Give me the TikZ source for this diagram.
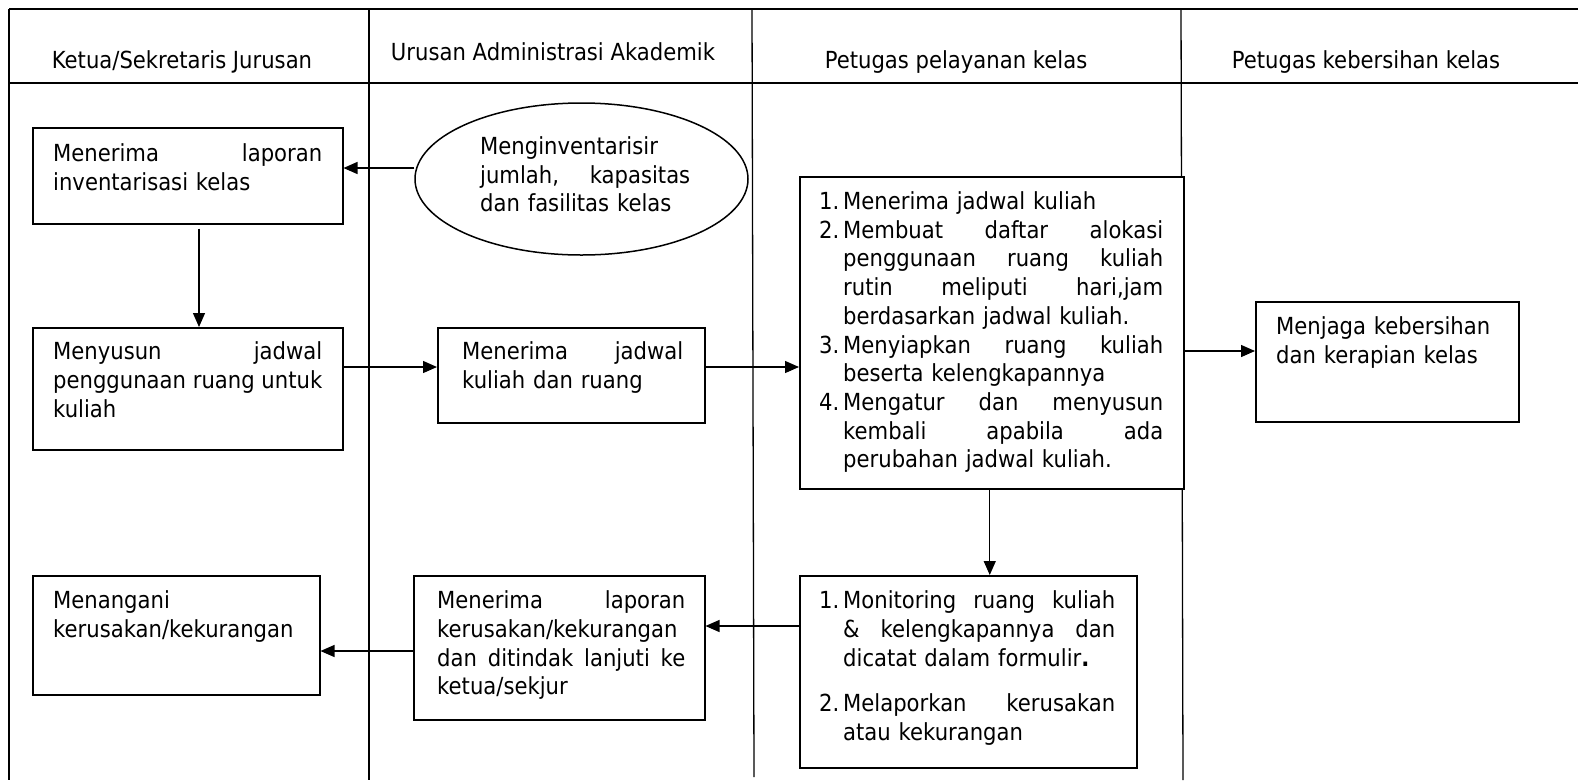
\documentclass[tikz,border=0pt]{standalone}
\usepackage{fontspec}
\setmainfont{DejaVu Sans}[FakeStretch=0.9]
\usetikzlibrary{arrows.meta,shapes.geometric}
\begin{document}
\begin{tikzpicture}[x=1pt,y=-1pt,
  box/.style={draw, line width=1.5pt, inner sep=0pt, anchor=north west},
  txt/.style={inner sep=0pt, anchor=north west, align=left, font=\fontsize{23.5}{28.7}\selectfont},
  head/.style={inner sep=0pt, anchor=base, font=\fontsize{23.5}{28.7}\selectfont},
  frame/.style={line width=1.9pt},
  lane/.style={line width=1.3pt},
  arr/.style={line width=1.3pt, -{Triangle[length=14pt,width=12pt]}}]
\useasboundingbox (0,0) rectangle (1578,780);
% frame and lanes
\coordinate (tl) at (9,9);
\coordinate (tr) at (1578,9);
\coordinate (hl) at (9,83);
\coordinate (hr) at (1578,83);
\coordinate (bl) at (9,780);
\coordinate (l1t) at (369,9);
\coordinate (l1b) at (369,780);
\coordinate (l2t) at (752,9);
\coordinate (l2b) at (754,777);
\coordinate (l3t) at (1181,9);
\coordinate (l3b) at (1183,780);
\draw[frame] (tl) -- (tr);
\draw[frame] (hl) -- (hr);
\draw[lane] (tl) -- (bl);
\draw[lane] (l1t) -- (l1b);
\draw[lane] (l2t) -- (l2b);
\draw[lane] (l3t) -- (l3b);
% headers
\node[head] (h1) at (182,68) {Ketua/Sekretaris Jurusan};
\node[head] (h2) at (553,60) {Urusan Administrasi Akademik};
\node[head] (h3) at (956,68) {Petugas pelayanan kelas};
\node[head] (h4) at (1366,68) {Petugas kebersihan kelas};
% boxes
\node[box, fill=white, minimum width=310pt, minimum height=96pt] (A) at (32,127) {};
\node[draw, line width=1.5pt, ellipse, inner sep=0pt, minimum width=333pt, minimum height=152pt] (ell) at (581.5,179) {};
\node[box, minimum width=310pt, minimum height=122pt] (B) at (32,327) {};
\node[box, minimum width=267pt, minimum height=95pt] (C) at (437,327) {};
\node[box, fill=white, minimum width=384pt, minimum height=312pt] (D) at (799,176) {};
\node[box, minimum width=263pt, minimum height=120pt] (E) at (1255,301) {};
\node[box, minimum width=337pt, minimum height=192pt] (F) at (799,575) {};
\node[box, minimum width=291pt, minimum height=144pt] (G) at (413,575) {};
\node[box, minimum width=287pt, minimum height=119pt] (H) at (32,575) {};
% texts
\node[txt, text width=269pt] (At) at (53,141.3) {\strut Menerima\hfill laporan\\inventarisasi kelas};
\node[txt, text width=210pt] (ellt) at (480,134.3) {\strut Menginventarisir\\jumlah,\hfill kapasitas\\dan fasilitas kelas};
\node[txt, text width=269pt] (Bt) at (53,339.3) {\strut Menyusun\hfill jadwal\\penggunaan\hfill ruang\hfill untuk\\kuliah};
\node[txt, text width=221pt] (Ct) at (462,339.3) {\strut Menerima\hfill jadwal\\kuliah dan ruang};
\node[txt, text width=344pt] (Dt) at (819,189.3) {\strut\makebox[24pt][l]{1.}Menerima jadwal kuliah\\
\makebox[24pt][l]{2.}Membuat\hfill daftar\hfill alokasi\\
\hspace*{24pt}penggunaan\hfill ruang\hfill kuliah\\
\hspace*{24pt}rutin\hfill meliputi\hfill hari,jam\\
\hspace*{24pt}berdasarkan jadwal kuliah.\\
\makebox[24pt][l]{3.}Menyiapkan\hfill ruang\hfill kuliah\\
\hspace*{24pt}beserta kelengkapannya\\
\makebox[24pt][l]{4.}Mengatur\hfill dan\hfill menyusun\\
\hspace*{24pt}kembali\hfill apabila\hfill ada\\
\hspace*{24pt}perubahan jadwal kuliah.};
\node[txt, text width=230pt] (Et) at (1276,314.3) {\strut Menjaga kebersihan\\dan kerapian kelas};
\node[txt, text width=296pt] (Ft) at (819,588.3) {\strut\makebox[24pt][l]{1.}Monitoring\hfill ruang\hfill kuliah\\
\hspace*{24pt}\&\hfill kelengkapannya\hfill dan\\
\hspace*{24pt}dicatat dalam formulir\textbf{.}\\[17pt]
\makebox[24pt][l]{2.}Melaporkan\hfill kerusakan\\
\hspace*{24pt}atau kekurangan};
\node[txt, text width=248pt] (Gt) at (437,588.3) {\strut Menerima\hfill laporan\\kerusakan/kekurangan\\dan\hfill ditindak\hfill lanjuti\hfill ke\\ketua/sekjur};
\node[txt, text width=266pt] (Ht) at (53,588.3) {\strut Menangani\\kerusakan/kekurangan};
% connector rows
\coordinate (r1) at (0,168);
\coordinate (r2) at (0,367);
\coordinate (r3) at (0,351);
\coordinate (r4) at (0,626);
\coordinate (r5) at (0,651);
\coordinate (c1) at (199,0);
% arrows
\draw[arr] (ell.west |- r1) -- (A.east |- r1);
\draw[arr] ([yshift=-4pt]A.south -| c1) -- (B.north -| c1);
\draw[arr] (B.east |- r2) -- (C.west |- r2);
\draw[arr] (C.east |- r2) -- (D.west |- r2);
\draw[arr] (D.east |- r3) -- (E.west |- r3);
\draw[arr] ([xshift=-2pt]D.south) -- ([xshift=-2pt]D.south |- F.north);
\draw[arr] (F.west |- r4) -- (G.east |- r4);
\draw[arr] (G.west |- r5) -- (H.east |- r5);
\end{tikzpicture}
\end{document}
